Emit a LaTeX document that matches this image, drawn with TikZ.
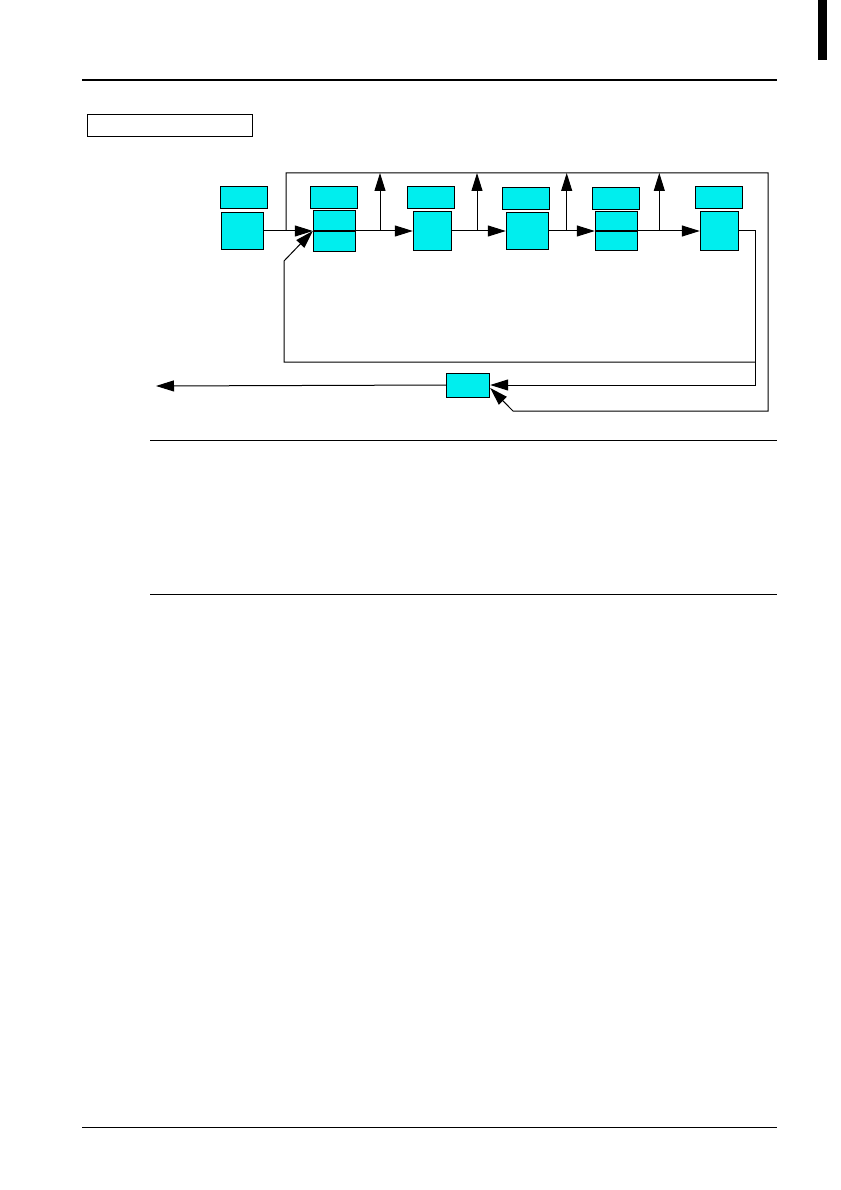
\documentclass[tikz,border=0pt]{standalone}
\usepackage{tikz}
\usetikzlibrary{arrows.meta}
\usetikzlibrary{positioning}
\definecolor{boxcyan}{RGB}{0,238,238}

\begin{document}
\begin{tikzpicture}
  [x = 1pt, y = -1pt, line width = 1pt,
   tag/.style = {draw, fill = boxcyan, inner sep = 0pt, minimum width = 47pt, minimum height = 22pt},
   blk/.style = {draw, fill = boxcyan, inner sep = 0pt},
   flow/.style = {-{Triangle[length = 18pt, width = 11pt]}}]
  \useasboundingbox (0,0) rectangle (840,1190);
  \fill[black] (818,0) rectangle (827,60);
  \draw[line width = 2.5pt] (82,80) -- (777,80);
  \node[draw, inner sep = 0pt, minimum width = 165pt, minimum height = 22pt] (title) at (169.5,126) {};
  \foreach \n/\x/\y in {1/243.5/197.5, 2/333.8/197.5, 3/431.3/197.5, 4/526/198.3, 5/616/198.3, 6/719/197.3}{
    \node[tag] (tag\n) at (\x,\y) {};
  }
  \foreach \n/\x/\w/\h in {1/242.3/42/36, 2/334.3/42/41, 3/432.3/38/38, 4/527.3/42/36, 5/616.3/42/39, 6/719.3/38/38}{
    \node[blk, minimum width = \w pt, minimum height = \h pt] (blk\n) at (\x,231) {};
  }
  \node[blk, minimum width = 43pt, minimum height = 24pt] (mix) at (468.2,385) {};
  \draw[line width = 1.5pt] (blk2.west) -- (blk2.east);
  \draw[line width = 1.5pt] (blk5.west) -- (blk5.east);
  \coordinate (tap) at (286,231);
  \coordinate (topL) at (286,173);
  \coordinate (topR) at (768,173);
  \coordinate (botR) at (768,411);
  \coordinate (botL) at (513,411);
  \coordinate (ret) at (755,231);
  \coordinate (loopR) at (755,362);
  \coordinate (loopL) at (284,362);
  \coordinate (loopU) at (284,261);
  \coordinate (out) at (156,386);
  \draw[flow] (blk1.east) -- (blk2.west);
  \foreach \a/\b in {2/3, 3/4, 4/5, 5/6}{
    \draw[flow] (blk\a.east) -- (blk\b.west);
  }
  \foreach \x in {380, 477, 566.7, 659.3}{
    \draw[flow] (\x,231) -- (\x,173);
  }
  \draw[flow] (tap) -- (topL) -- (topR) -- (botR) -- (botL) -- ([yshift = -3pt]mix.east);
  \draw[flow] (blk6.east) -- (ret) -- (ret |- mix.east) -- (mix.east);
  \draw[flow] (loopR) -- (loopL) -- (loopU) -- (blk2.west);
  \draw[flow] (mix.west) -- (out);
  \draw (150,440) -- (777,440);
  \draw (150,594) -- (777,594);
  \draw (82,1127) -- (777,1127);
\end{tikzpicture}
\end{document}
